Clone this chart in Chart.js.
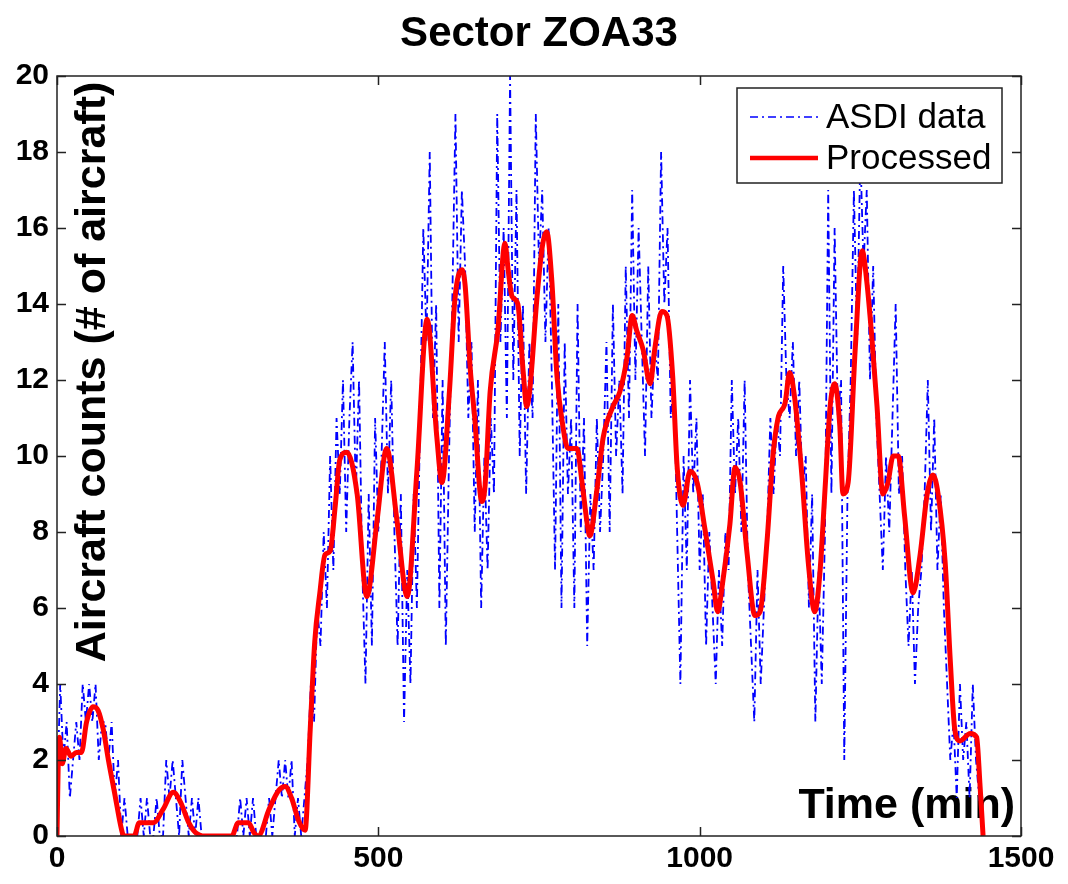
<!DOCTYPE html>
<html>
<head>
<meta charset="utf-8">
<title>Sector ZOA33</title>
<script src="https://cdn.jsdelivr.net/npm/chart.js@4.4.1/dist/chart.umd.min.js"></script>
<style>
html, body { margin: 0; padding: 0; background: #fff; }
</style>
</head>
<body>
<canvas id="chart" width="1068" height="884"></canvas>
<script>

const chartTitle = "Sector ZOA33";
const xTitle = "Time (min)";
const yTitle = "Aircraft counts (# of aircraft)";
const seriesNames = ["ASDI data", "Processed"];

const xTicks = [0, 500, 1000, 1500];
const yTicks = [0, 2, 4, 6, 8, 10, 12, 14, 16, 18, 20];

// raw counts, one reading every 5 minutes
const asdiStep = 5;
const asdiCounts = [
    1, 4, 2, 3, 1, 2, 3, 2, 4, 3, 4, 3,
    4, 2, 3, 3, 2, 3, 1, 2, 0, 1, 0, 0,
    0, 0, 1, 0, 1, 0, 0, 1, 0, 0, 2, 1,
    2, 1, 0, 2, 1, 0, 1, 0, 1, 0, 0, 0,
    0, 0, 0, 0, 0, 0, 0, 0, 0, 1, 0, 1,
    0, 1, 0, 0, 0, 0, 1, 0, 1, 2, 1, 2,
    1, 2, 0, 1, 0, 1, 2, 4, 3, 6, 5, 8,
    6, 10, 7, 11, 9, 12, 8, 11, 13, 9, 12, 7,
    4, 9, 5, 11, 8, 10, 13, 9, 12, 8, 5, 9,
    3, 7, 4, 9, 6, 11, 16, 13, 18, 11, 14, 6,
    12, 5, 10, 14, 19, 13, 17, 15, 11, 13, 8, 12,
    6, 10, 7, 11, 9, 19, 13, 16, 11, 20, 12, 17,
    10, 14, 9, 13, 11, 19, 15, 17, 13, 16, 12, 7,
    14, 6, 13, 9, 11, 6, 14, 8, 11, 5, 9, 7,
    11, 8, 10, 13, 8, 14, 10, 12, 9, 15, 11, 17,
    12, 16, 13, 10, 15, 11, 13, 12, 18, 14, 16, 11,
    12, 8, 4, 10, 7, 12, 9, 11, 7, 9, 5, 8,
    6, 4, 7, 5, 8, 7, 12, 9, 11, 8, 12, 7,
    5, 3, 7, 4, 6, 8, 11, 9, 11, 10, 15, 12,
    11, 13, 10, 12, 9, 10, 6, 9, 3, 7, 4, 8,
    17, 9, 16, 11, 12, 2, 9, 12, 17, 13, 18, 15,
    17, 12, 15, 11, 9, 7, 10, 8, 11, 14, 9, 10,
    7, 5, 7, 4, 6, 7, 9, 12, 8, 11, 7, 9,
    6, 4, 2, 3, 1, 4, 2, 3, 1, 4, 2, 1,
    0
];

const processedTime = [
    0, 2, 4, 8, 14, 22, 30, 38, 46, 56, 64, 72, 80, 90, 100, 104,
    120, 128, 150, 165, 181, 192, 205, 215, 230, 272, 282, 298, 306, 313,
    330, 345, 355, 365, 376, 386, 394, 401, 409, 417, 425, 433, 440, 451,
    467, 482, 498, 513, 529, 545, 560, 576, 591, 599, 611, 619, 630, 635,
    643, 650, 661, 666, 674, 686, 697, 702, 708, 717, 725, 731, 736, 747,
    756, 762, 770, 778, 787, 795, 809, 817, 826, 829, 840, 850, 865, 876,
    887, 895, 902, 912, 923, 930, 941, 949, 958, 965, 974, 985, 996, 1008,
    1021, 1028, 1036, 1047, 1055, 1063, 1074, 1086, 1094, 1105, 1114, 1122,
    1133, 1140, 1148, 1159, 1169, 1179, 1187, 1195, 1203, 1210, 1218, 1223,
    1231, 1242, 1253, 1260, 1268, 1276, 1285, 1293, 1301, 1309, 1319, 1332,
    1343, 1354, 1363, 1371, 1382, 1390, 1397, 1405, 1421, 1431, 1436, 1441
];

const processedCount = [
    0, 2.0, 2.6, 1.9, 2.3, 2.1, 2.2, 2.2, 3.0, 3.4, 3.3, 2.8, 2.0, 1.1, 0.2, 0,
    0, 0.35, 0.35, 0.7, 1.15, 0.9, 0.35, 0.1, 0, 0, 0.35, 0.35, 0.1, 0,
    0.7, 1.2, 1.3, 1.0, 0.4, 0.15, 2.8, 5.1, 6.4, 7.4, 7.5, 8.7, 9.9, 10.1,
    9.0, 6.3, 8.3, 10.2, 8.3, 6.3, 9.6, 13.6, 10.5, 9.3, 11.8, 14.1, 14.9, 14.5,
    12.3, 11.0, 8.8, 9.2, 11.7, 13.3, 15.6, 14.9, 14.2, 14.0, 12.3, 11.3, 11.8, 14.2,
    15.6, 15.9, 14.6, 12.1, 10.8, 10.2, 10.2, 9.3, 8.1, 7.9, 9.1, 10.5, 11.3, 11.7,
    12.6, 13.7, 13.3, 12.8, 11.9, 12.8, 13.8, 13.7, 12.1, 9.7, 8.7, 9.6, 9.3, 8.1,
    6.7, 5.9, 6.7, 8.2, 9.7, 9.3, 7.4, 5.8, 5.9, 7.8, 10.0, 11.0,
    11.4, 12.2, 11.5, 9.5, 7.2, 5.9, 6.9, 9.1, 11.3, 11.9, 10.8, 9.0,
    9.3, 12.8, 15.4, 14.6, 13.1, 11.3, 9.0, 9.3, 10.0, 10.0, 8.4, 6.4,
    7.4, 9.0, 9.5, 9.0, 7.2, 4.6, 2.8, 2.5, 2.7, 2.6, 1.4, 0
];

const FONT = "'Liberation Sans', Arial, Helvetica, sans-serif";

const framePlugin = {

    id: "frame",

    beforeDatasetsDraw(chart) {

        const ctx = chart.ctx;
        const area = chart.chartArea;

        ctx.save();
        ctx.fillStyle = "#000";

        // axis titles sit inside the plot box
        ctx.font = "bold 43px " + FONT;
        ctx.textAlign = "right";
        ctx.textBaseline = "middle";
        ctx.fillText(xTitle, area.right - 6, area.bottom - 30);

        ctx.translate(area.left + 36, (area.top + area.bottom) / 2 - 84);
        ctx.rotate(-Math.PI / 2);
        ctx.textAlign = "center";
        ctx.fillText(yTitle, 0, 0);

        ctx.restore();

        ctx.save();
        ctx.fillStyle = "#000";
        ctx.font = "bold 42px " + FONT;
        ctx.textAlign = "center";
        ctx.textBaseline = "middle";
        ctx.fillText(chartTitle, (area.left + area.right) / 2, 34);
        ctx.restore();

    },

    afterDatasetsDraw(chart) {

        const ctx = chart.ctx;
        const area = chart.chartArea;
        const xs = chart.scales.x;
        const ys = chart.scales.y;
        const len = 9;

        ctx.save();
        ctx.strokeStyle = "#222";
        ctx.lineWidth = 1.5;

        ctx.strokeRect(area.left, area.top, area.right - area.left, area.bottom - area.top);

        ctx.beginPath();

        xTicks.forEach(v => {

            const px = Math.round(xs.getPixelForValue(v)) + 0.5;

            ctx.moveTo(px, area.bottom);
            ctx.lineTo(px, area.bottom - len);
            ctx.moveTo(px, area.top);
            ctx.lineTo(px, area.top + len);

        });

        yTicks.forEach(v => {

            const py = Math.round(ys.getPixelForValue(v)) + 0.5;

            ctx.moveTo(area.left, py);
            ctx.lineTo(area.left + len, py);
            ctx.moveTo(area.right, py);
            ctx.lineTo(area.right - len, py);

        });

        ctx.stroke();
        ctx.restore();

    },

    afterDraw(chart) {

        const ctx = chart.ctx;
        const sets = chart.data.datasets;

        const box = { x: 737, y: 88, w: 265, h: 95 };

        ctx.save();
        ctx.fillStyle = "#fff";
        ctx.fillRect(box.x, box.y, box.w, box.h);
        ctx.strokeStyle = "#222";
        ctx.lineWidth = 1.5;
        ctx.strokeRect(box.x, box.y, box.w, box.h);

        ctx.font = "35px " + FONT;
        ctx.textAlign = "left";
        ctx.textBaseline = "middle";

        [1, 0].forEach((idx, row) => {

            const ds = sets[idx];
            const y = box.y + 29 + row * 41;

            ctx.strokeStyle = ds.borderColor;
            ctx.lineWidth = idx == 0 ? 4.5 : 1.6;
            ctx.setLineDash(ds.borderDash || []);
            ctx.beginPath();
            ctx.moveTo(box.x + 13, y);
            ctx.lineTo(box.x + 81, y);
            ctx.stroke();
            ctx.setLineDash([]);

            ctx.fillStyle = "#000";
            ctx.fillText(ds.label, box.x + 89, y + 1);

        });

        ctx.restore();

    }

};

function asdiPoints() {

    return asdiCounts.map((c, i) => ({ x: i * asdiStep, y: c }));

}

function processedPoints() {

    return processedTime.map((t, i) => ({ x: t, y: processedCount[i] }));

}

const tickFont = { family: FONT, size: 30, weight: "bold" };

const chart = new Chart(document.getElementById("chart"), {

    type: "line",

    data: {

        datasets: [

            {
                label: seriesNames[1],
                data: processedPoints(),
                borderColor: "#ff0000",
                borderWidth: 5,
                pointRadius: 0,
                cubicInterpolationMode: "monotone",
                fill: false,
                order: 0
            },

            {
                label: seriesNames[0],
                data: asdiPoints(),
                borderColor: "#0000ff",
                borderWidth: 1.8,
                borderDash: [8, 4, 2, 4],
                pointRadius: 0,
                tension: 0,
                fill: false,
                order: 1
            }

        ]

    },

    options: {

        responsive: false,
        animation: false,
        devicePixelRatio: 1,

        layout: {
            padding: { top: 76, right: 47, bottom: 0, left: 0 }
        },

        plugins: {
            legend: { display: false },
            tooltip: { enabled: false },
            title: { display: false }
        },

        scales: {

            x: {
                type: "linear",
                min: 0,
                max: 1500,
                grid: { display: false, drawTicks: false },
                border: { display: false },
                afterBuildTicks: s => { s.ticks = xTicks.map(v => ({ value: v })); },
                afterFit: s => { s.height = 48; },
                ticks: {
                    color: "#000",
                    font: tickFont,
                    padding: 5,
                    maxRotation: 0,
                    autoSkip: false,
                    callback: v => String(v)
                }
            },

            y: {
                type: "linear",
                min: 0,
                max: 20,
                grid: { display: false, drawTicks: false },
                border: { display: false },
                afterBuildTicks: s => { s.ticks = yTicks.map(v => ({ value: v })); },
                afterFit: s => { s.width = 57; },
                ticks: {
                    color: "#000",
                    font: tickFont,
                    padding: 8,
                    autoSkip: false,
                    callback: v => String(v)
                }
            }

        }

    },

    plugins: [framePlugin]

});

</script>
</body>
</html>
